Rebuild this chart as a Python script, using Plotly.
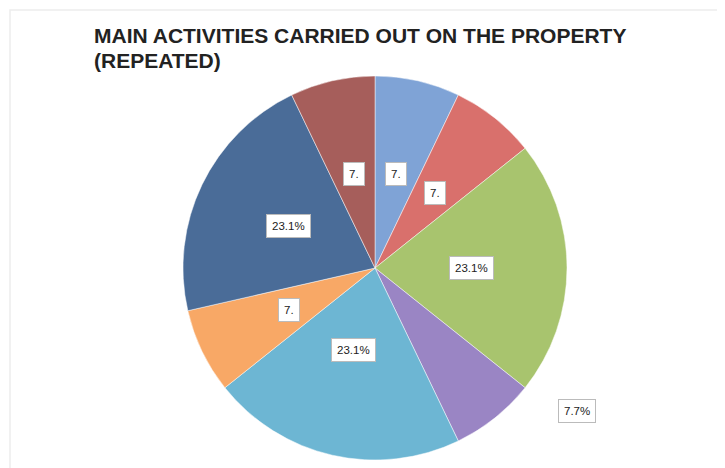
import math
import plotly.graph_objects as go

# ---- data ----
categories = ["Activity A", "Activity B", "Activity C", "Activity D",
              "Activity E", "Activity F", "Activity G", "Activity H"]
counts = [1, 1, 3, 1, 3, 1, 3, 1]
shown_labels = ["7.", "7.", "23.1%", "7.7%", "23.1%", "7.", "23.1%", "7."]
colors = ["#7FA3D6", "#D9706C", "#A8C46E", "#9A85C4",
          "#6DB6D3", "#F8A866", "#4A6C98", "#A65E5B"]
title_lines = ["MAIN ACTIVITIES CARRIED OUT ON THE PROPERTY", "(REPEATED)"]

W, H = 725, 468
OFF = 8                       # page body offset
CX, CY, R = 375 - OFF, 268 - OFF, 192  # pie centre / radius in pixels

fig = go.Figure(go.Pie(
    labels=categories,
    values=counts,
    sort=False,
    direction="clockwise",
    rotation=0,
    marker=dict(colors=colors, line=dict(color="rgba(255,255,255,0.6)", width=0.8)),
    textinfo="none",
    hoverinfo="label+percent",
    showlegend=False,
    domain=dict(x=[(CX - R) / W, (CX + R) / W],
                y=[(H - CY - R) / H, (H - CY + R) / H]),
))

# data labels in white boxes, placed at each slice's mid-angle
total = sum(counts)
cum = 0
for i, (v, lab) in enumerate(zip(counts, shown_labels)):
    mid = (cum + v / 2) / total * 2 * math.pi
    cum += v
    outside = (i == 3)
    rf = 1.25 if outside else 0.5
    px = CX + R * rf * math.sin(mid)
    py = CY - R * rf * math.cos(mid)
    if outside:
        px += 71
        py -= 33
    fig.add_annotation(
        x=px / W, y=(H - py) / H, xref="paper", yref="paper",
        text=lab, showarrow=False,
        font=dict(family="Arial, Liberation Sans, sans-serif", size=11.5, color="#222222"),
        bgcolor="white", bordercolor="#BBBBBB", borderwidth=1, borderpad=5,
    )

# title (two lines, 25 px apart)
for k, line in enumerate(title_lines):
    fig.add_annotation(
        x=(92 - OFF) / W, y=1 - (22 - OFF + 25 * k) / H, xref="paper", yref="paper",
        xanchor="left", yanchor="top", align="left", showarrow=False,
        text="<b>" + line + "</b>",
        font=dict(family="Arial, Liberation Sans, sans-serif", size=21, color="#222222"),
    )

# faint outer frame of the chart area
fig.add_shape(type="rect", xref="paper", yref="paper",
              x0=(10 - OFF) / W, x1=1.02, y0=-0.02, y1=1 - (10 - OFF) / H,
              line=dict(color="#EDEDED", width=1.5), fillcolor="rgba(0,0,0,0)", layer="below")

fig.update_layout(
    width=W, height=H,
    margin=dict(l=0, r=0, t=0, b=0),
    paper_bgcolor="white",
    plot_bgcolor="white",
)

fig.write_html("out.html")
